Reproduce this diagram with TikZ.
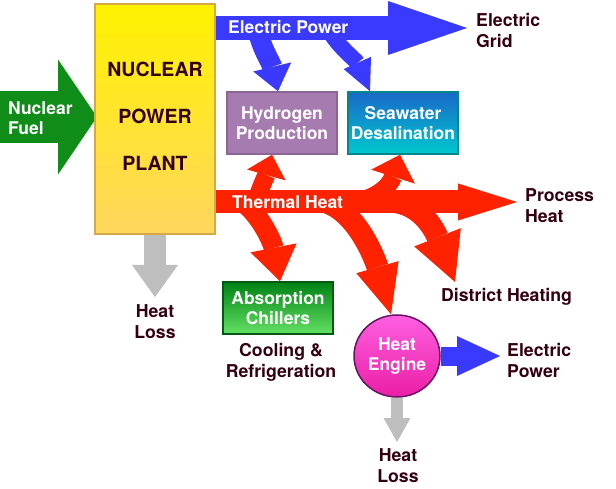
\documentclass[tikz,border=0pt]{standalone}
\usepackage{fontspec}
\setmainfont{TeX Gyre Heros}
\usetikzlibrary{arrows.meta,shapes.geometric}
\definecolor{txt}{RGB}{51,0,17}
\definecolor{blu}{RGB}{58,58,255}
\definecolor{redd}{RGB}{255,34,0}
\definecolor{grn}{RGB}{16,140,24}
\definecolor{gry}{RGB}{190,190,190}
\definecolor{plantTop}{RGB}{255,242,0}
\definecolor{plantBot}{RGB}{255,214,95}
\definecolor{plantLine}{RGB}{214,168,70}
\definecolor{hydFill}{RGB}{166,124,176}
\definecolor{hydLine}{RGB}{140,100,150}
\definecolor{seaTop}{RGB}{25,105,200}
\definecolor{seaBot}{RGB}{0,200,205}
\definecolor{seaLine}{RGB}{0,135,140}
\definecolor{absTop}{RGB}{0,130,20}
\definecolor{absBot}{RGB}{100,225,100}
\definecolor{absLine}{RGB}{0,90,20}
\definecolor{engTop}{RGB}{255,95,225}
\definecolor{engBot}{RGB}{235,30,165}
\definecolor{engLine}{RGB}{100,20,100}
\begin{document}
\begin{tikzpicture}[x=1pt,y=-1pt,
  lbl/.style={text=txt,font=\fontsize{17.7}{21}\selectfont\bfseries,align=left,inner sep=0pt},
  clbl/.style={lbl,align=center},
  wlbl/.style={text=white,font=\fontsize{17.5}{20}\selectfont\bfseries,align=center,inner sep=0pt},
  boxnode/.style={draw,line width=1.5pt,minimum width=110pt,inner sep=0pt,text=white,font=\fontsize{17.5}{20}\selectfont\bfseries,align=center},
  tip/.style 2 args={-{Triangle[length=#1,width=#2,line width=0pt]}}
]
\useasboundingbox (0,0) rectangle (616,489);

% coordinates
\coordinate (fuelstart) at (0,117);
\coordinate (epstart) at (205,28);
\coordinate (gridtip) at (467,28);
\coordinate (thstart) at (205,202);
\coordinate (proctip) at (517,202);
\coordinate (b1s) at (257,28);
\coordinate (b2s) at (328,28);
\coordinate (u1s) at (256,202);
\coordinate (u2s) at (352,202);
\coordinate (d1s) at (242,202);
\coordinate (d2s) at (325,202);
\coordinate (d3s) at (395,202);
\coordinate (dhtip) at (455,282);
\coordinate (eptip) at (500,356);
\coordinate (hl2tip) at (397,442);
\coordinate (hl1tip) at (155,297);

% boxes
\node[boxnode,draw=hydLine,fill=hydFill,minimum height=62pt] (hyd) at (282,123) {Hydrogen\\Production};
\node[boxnode,draw=seaLine,top color=seaTop,bottom color=seaBot,minimum height=62pt] (sea) at (403,123) {Seawater\\Desalination};
\node[boxnode,draw=absLine,top color=absTop,bottom color=absBot,minimum height=52pt] (abs) at (278,308) {Absorption\\Chillers};
\node[ellipse,draw=engLine,line width=1.5pt,top color=engTop,bottom color=engBot,minimum width=86pt,minimum height=82pt,inner sep=0pt,text=white,font=\fontsize{17.5}{20}\selectfont\bfseries,align=center] (eng) at (397,356) {Heat\\Engine};

% green fuel arrow
\draw[grn,line width=52pt,tip={39pt}{115pt}] (fuelstart) -- (97,117);

% blue branches
\draw[blu,line width=20pt,tip={25pt}{39pt}] (b1s) .. controls (262,50) and (271,62) .. ([xshift=-4pt]hyd.north);
\draw[blu,line width=16pt,tip={31pt}{30pt}] (b2s) .. controls (336,45) and (356,60) .. ([xshift=-33pt]sea.north);
% blue main
\draw[blu,line width=24pt,tip={79pt}{54pt}] (epstart) -- (gridtip);

% red branches
\draw[redd,line width=18pt,tip={21pt}{40pt}] (u1s) .. controls (260,188) and (266,176) .. ([xshift=-10pt]hyd.south);
\draw[redd,line width=18pt,tip={23pt}{46pt}] (u2s) .. controls (375,200) and (390,186) .. ([xshift=-3pt]sea.south);
\draw[redd,line width=20pt,tip={34pt}{47pt}] (d1s) .. controls (258,212) and (272,240) .. ([xshift=2pt]abs.north);
\draw[redd,line width=22pt,tip={49pt}{44pt}] (d2s) .. controls (358,212) and (376,262) .. ([xshift=-6pt]eng.north);
\draw[redd,line width=22pt,tip={48pt}{50pt}] (d3s) .. controls (425,206) and (437,236) .. (dhtip);
% red main
\draw[redd,line width=23pt,tip={59pt}{37pt}] (thstart) -- (proctip);

% plant
\node[draw=plantLine,line width=2pt,top color=plantTop,bottom color=plantBot,minimum width=120pt,minimum height=230pt,inner sep=0pt] (plant) at (155,119) {};
\node[text=txt,font=\fontsize{19.5}{47}\selectfont\bfseries,align=center,inner sep=0pt] (plantlbl) at (155,116) {NUCLEAR\\POWER\\PLANT};

% grey heat loss arrows
\draw[gry,line width=22pt,tip={32pt}{46pt}] (plant.south) -- (hl1tip);
\draw[gry,line width=12pt,tip={24pt}{27pt}] (eng.south) -- (hl2tip);
% blue from engine
\draw[blu,line width=19pt,tip={43pt}{40pt}] (eng.east) -- (eptip);

% labels on arrows
\node[wlbl,align=left,anchor=west] (fuellbl) at (8,118) {Nuclear\\Fuel};
\node[wlbl,anchor=west] (eplbl) at (228,27) {Electric Power};
\node[wlbl,anchor=west] (thlbl) at (232,202) {Thermal Heat};

% outer labels
\node[lbl,anchor=west] (gridlbl) at (476,31) {Electric\\Grid};
\node[lbl,anchor=west] (proclbl) at (525,206) {Process\\Heat};
\node[lbl,anchor=west] (dhlbl) at (441,297) {District Heating};
\node[clbl] (hl1lbl) at (155,322) {Heat\\Loss};
\node[clbl] (coollbl) at (281,362) {Cooling \&\\Refrigeration};
\node[lbl,anchor=west] (ep2lbl) at (507,360) {Electric\\Power};
\node[clbl] (hl2lbl) at (398,466) {Heat\\Loss};
\end{tikzpicture}
\end{document}
